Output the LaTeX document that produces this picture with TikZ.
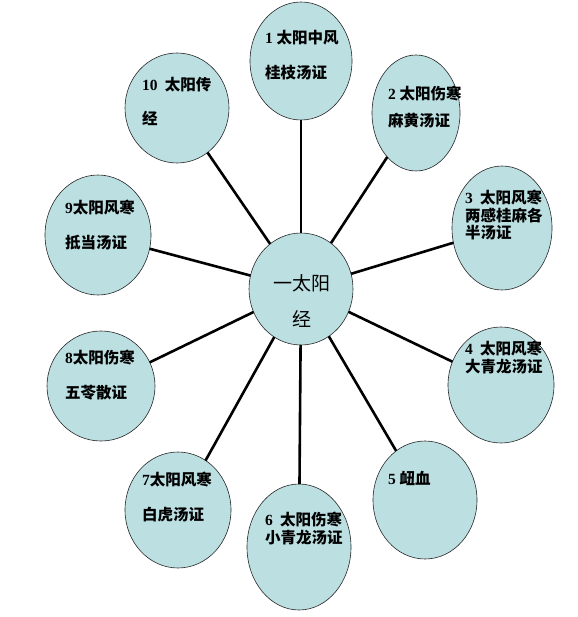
\documentclass[tikz,border=0pt]{standalone}
\usepackage{fontspec}
\setmainfont{Noto Sans CJK SC}
\newfontfamily\digitfont{Liberation Serif}
\usetikzlibrary{shapes.geometric}
\definecolor{bubblefill}{RGB}{188,223,226}
\newcommand\nr[1]{{\digitfont\bfseries #1}}
\tikzset{
  bubble/.style={ellipse, draw=black!85, line width=0.6pt, fill=bubblefill, inner sep=0pt, outer sep=0pt},
  spoke/.style={line width=2.6pt},
  lab/.style={anchor=north west, inner sep=0pt, align=left, font=\fontsize{15.5}{17.5}\selectfont\bfseries},
}
\begin{document}
\begin{tikzpicture}[x=1pt, y=-1pt, line join=round]
  \useasboundingbox (0,0) rectangle (577,617);
  % bubbles
  \node[bubble, minimum width=104pt, minimum height=112pt] (c) at (301,289) {};
  \node[bubble, minimum width=102pt, minimum height=118pt] (b1) at (301,61) {};
  \node[bubble, minimum width=88pt, minimum height=116pt] (b2) at (416,113) {};
  \node[bubble, minimum width=100pt, minimum height=124pt] (b3) at (502,228) {};
  \node[bubble, minimum width=106pt, minimum height=116pt] (b4) at (501,385) {};
  \node[bubble, minimum width=104pt, minimum height=118pt] (b5) at (425,500) {};
  \node[bubble, minimum width=104pt, minimum height=126pt] (b6) at (299,547) {};
  \node[bubble, minimum width=106pt, minimum height=116pt] (b7) at (178,510) {};
  \node[bubble, minimum width=108pt, minimum height=110pt] (b8) at (101,386) {};
  \node[bubble, minimum width=106pt, minimum height=120pt] (b9) at (98,235) {};
  \node[bubble, minimum width=104pt, minimum height=110pt] (b10) at (177,108) {};
  % spokes
  \foreach \i in {1,...,10}
    \draw[spoke] (c) -- (b\i);
  % texts
  \node[anchor=north, inner sep=0pt, align=center, font=\fontsize{19}{22}\selectfont] (tc) at (302,274) {一太阳\\[14pt]经};
  \node[lab] (t1) at (265,30) {\nr{1} 太阳中风\\[17.5pt]桂枝汤证};
  \node[lab] (t2) at (388,86) {\nr{2} 太阳伤寒\\[9.5pt]麻黄汤证};
  \node[lab] (t3) at (465,190) {\nr{3}\ \ 太阳风寒\\两感桂麻各\\半汤证};
  \node[lab] (t4) at (465,341) {\nr{4}\ \ 太阳风寒\\大青龙汤证};
  \node[lab] (t5) at (388,471) {\nr{5} 衄血};
  \node[lab] (t6) at (265,512) {\nr{6}\ \ 太阳伤寒\\小青龙汤证};
  \node[lab] (t7) at (142,472) {\nr{7}太阳风寒\\[17pt]白虎汤证};
  \node[lab] (t8) at (65,350) {\nr{8}太阳伤寒\\[17pt]五苓散证};
  \node[lab] (t9) at (65,200) {\nr{9}太阳风寒\\[17pt]抵当汤证};
  \node[lab] (t10) at (142,77) {\nr{10}\ \ 太阳传\\[17pt]经};
\end{tikzpicture}
\end{document}
